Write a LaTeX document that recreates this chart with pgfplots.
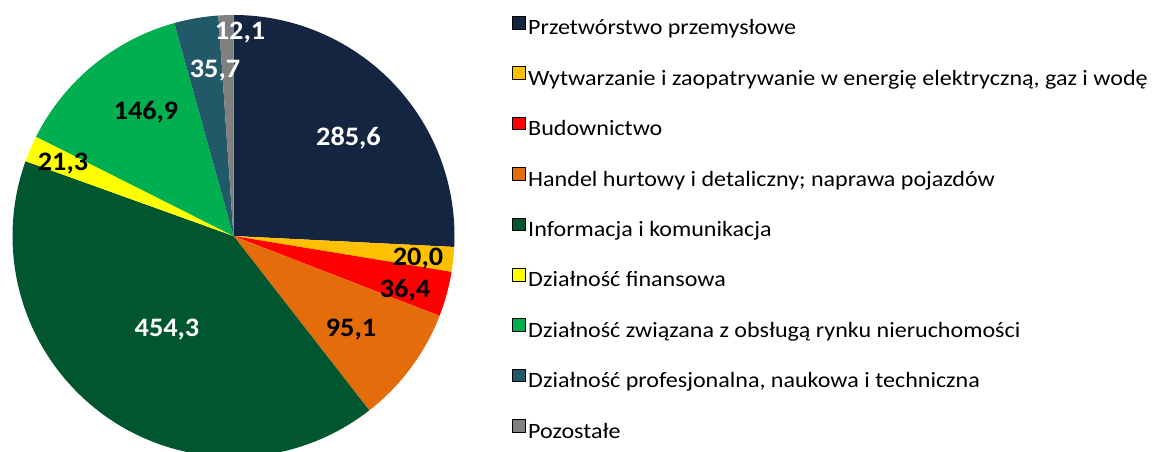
\documentclass[border=0pt]{standalone}
\usepackage{fontspec}
\setmainfont{Carlito}
\newfontfamily\legfont[FakeStretch=1.1]{Carlito}
\newfontfamily\labfont[FakeStretch=1.06]{Carlito}
\usepackage{pgfplots}
\usepackage{pgfplotstable}
\pgfplotsset{compat=1.18}

\definecolor{cNavy}{HTML}{132540}
\definecolor{cGold}{HTML}{FFC000}
\definecolor{cRed}{HTML}{FF0000}
\definecolor{cOrange}{HTML}{E46C0A}
\definecolor{cDkGreen}{HTML}{00562E}
\definecolor{cYellow}{HTML}{FFFF00}
\definecolor{cGreen}{HTML}{00B050}
\definecolor{cTeal}{HTML}{215968}
\definecolor{cGray}{HTML}{808080}

% value, slice colour, label colour, label position (px, y from bottom)
\pgfplotstableread{
val   col      tcol  lx     ly
285.6 cNavy    white 348.5  315
20.0  cGold    black 418    195
36.4  cRed     black 405    162.5
95.1  cOrange  black 351    124
454.3 cDkGreen white 167    124
21.3  cYellow  black 63     290
146.9 cGreen   black 146    340.5
35.7  cTeal    white 215    383.4
12.1  cGray    white 240    421
}\piedata

\begin{document}
\begin{tikzpicture}
\pgfplotstablegetrowsof{\piedata}
\pgfmathtruncatemacro\N{\pgfplotsretval-1}
\def\tot{0}
\pgfplotsforeachungrouped \i in {0,...,\N}{
  \pgfplotstablegetelem{\i}{val}\of{\piedata}
  \pgfmathsetmacro\tot{\tot+\pgfplotsretval}
}
\begin{axis}[
  x=0.75pt, y=0.75pt, scale only axis,
  xmin=0, xmax=1160, ymin=0, ymax=452,
  hide axis, clip=true,
  legend style={at={(0.4414,0.9646)}, anchor=north west, draw=none, fill=none,
    inner sep=0pt, outer sep=0pt, row sep=19.6pt,
    font=\legfont\fontsize{16.4pt}{19pt}\selectfont,
    nodes={inner xsep=2pt, inner ysep=0pt, text height=12pt, text depth=4pt}},
  legend cell align=left,
  legend image code/.code={\fill[#1] (0pt,0.6pt) rectangle (9.75pt,10pt);},
]
\def\acc{90}
\pgfplotsforeachungrouped \i in {0,...,\N}{
  \pgfplotstablegetelem{\i}{val}\of{\piedata}\let\sval\pgfplotsretval
  \pgfplotstablegetelem{\i}{col}\of{\piedata}\let\scol\pgfplotsretval
  \pgfmathsetmacro\aend{\acc-\sval/\tot*360}
  \edef\temp{\noexpand\fill[\scol] (axis cs:233.5,216) -- ++(\acc:165.75pt)
    arc[start angle=\acc, end angle=\aend, radius=165.75pt] -- cycle;}
  \temp
  \let\acc\aend
}
\pgfplotsforeachungrouped \i in {0,...,\N}{
  \pgfplotstablegetelem{\i}{val}\of{\piedata}\let\sval\pgfplotsretval
  \pgfplotstablegetelem{\i}{tcol}\of{\piedata}\let\tcol\pgfplotsretval
  \pgfplotstablegetelem{\i}{lx}\of{\piedata}\let\lx\pgfplotsretval
  \pgfplotstablegetelem{\i}{ly}\of{\piedata}\let\ly\pgfplotsretval
  \edef\temp{\noexpand\node[text=\tcol, inner sep=0pt, text height=12.7pt, text depth=0pt,
    font=\noexpand\labfont\noexpand\bfseries\noexpand\fontsize{20pt}{24pt}\noexpand\selectfont]
    at (axis cs:\lx,\ly)
    {\noexpand\pgfmathprintnumber[fixed, fixed zerofill, precision=1, use comma, assume math mode=true]{\sval}};}
  \temp
}
\addlegendimage{fill=cNavy}\addlegendentry{Przetwórstwo przemysłowe}
\addlegendimage{fill=cGold}\addlegendentry{Wytwarzanie i zaopatrywanie w energię elektryczną, gaz i wodę}
\addlegendimage{fill=cRed}\addlegendentry{Budownictwo}
\addlegendimage{fill=cOrange}\addlegendentry{Handel hurtowy i detaliczny; naprawa pojazdów}
\addlegendimage{fill=cDkGreen}\addlegendentry{Informacja i komunikacja}
\addlegendimage{fill=cYellow}\addlegendentry{Działność finansowa}
\addlegendimage{fill=cGreen}\addlegendentry{Działność związana z obsługą rynku nieruchomości}
\addlegendimage{fill=cTeal}\addlegendentry{Działność profesjonalna, naukowa i techniczna}
\addlegendimage{fill=cGray}\addlegendentry{Pozostałe}
\end{axis}
\pgfresetboundingbox
\path (current axis.south west) rectangle (current axis.north east);
\end{tikzpicture}
\end{document}
